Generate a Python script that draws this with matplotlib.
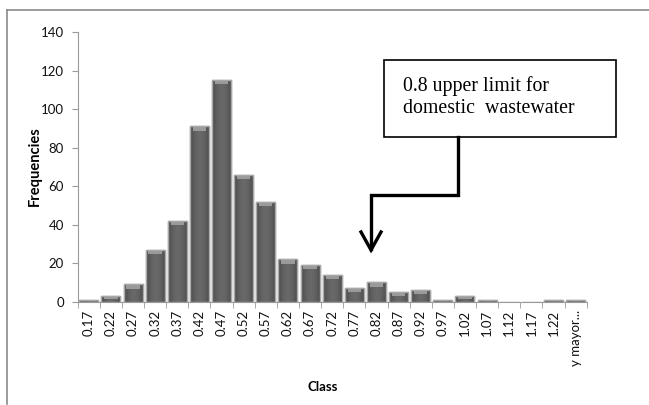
import numpy as np
import matplotlib
matplotlib.use('Agg')
from matplotlib import pyplot as plt
from matplotlib.lines import Line2D
from matplotlib.patches import Rectangle

# class marks and counts
classes = ['0.17', '0.22', '0.27', '0.32', '0.37', '0.42', '0.47', '0.52', '0.57', '0.62',
           '0.67', '0.72', '0.77', '0.82', '0.87', '0.92', '0.97', '1.02', '1.07', '1.12',
           '1.17', '1.22', 'y mayor...']
freqs = [1, 3, 9, 27, 42, 91, 115, 66, 52, 22,
         19, 14, 7, 10, 5, 6, 1, 3, 1, 0,
         0, 1, 1]
y_ticks = [0, 20, 40, 60, 80, 100, 120, 140]
note = '0.8 upper limit for\ndomestic  wastewater'

W, H = 649, 405
fig = plt.figure(figsize=(W / 100, H / 100), dpi=100)
fig.patch.set_facecolor('white')


def fx(px):
    return px / W


def fy(py):
    return 1 - py / H


ax = fig.add_axes([fx(77.7), fy(301.7), fx(586.7) - fx(77.7), fy(32) - fy(301.7)])

x = np.arange(len(classes))
bars = ax.bar(x, freqs, width=0.86, color='#595959', edgecolor='#a0a0a0', linewidth=1, zorder=2)

# horizontal shading on each bar, darker toward the sides
shade = 0.41 - 0.12 * np.abs(np.linspace(-1, 1, 64)) ** 1.8
shade = shade[np.newaxis, :]
for b in bars:
    h = b.get_height()
    if h <= 0:
        continue
    x0 = b.get_x()
    im = ax.imshow(shade, cmap='gray', vmin=0, vmax=1, aspect='auto',
                   extent=(x0, x0 + b.get_width(), 0, h), zorder=2.5, interpolation='bilinear')
    im.set_clip_path(b)
    # lighter bevel at the top of the bar
    if h >= 2:
        bev = min(2.2, h * 0.5)
        ax.bar(b.get_x() + b.get_width() / 2, bev, bottom=h - bev,
               width=b.get_width() * 0.7, color='#9a9a9a', linewidth=0, zorder=3)
    ax.add_patch(Rectangle((x0, 0), b.get_width(), h, fill=False,
                           edgecolor='#a8a8a8', linewidth=1, zorder=4))

ax.set_xlim(-0.5, len(classes) - 0.5)
ax.set_ylim(0, 140)
ax.set_yticks(y_ticks)
ax.set_yticklabels([str(v) for v in y_ticks], fontsize=9.5, family='Lato', color='#111111')
ax.set_xticks(x)
ax.set_xticklabels(classes, rotation=90, fontsize=9.5, family='Lato', color='#111111')
ax.set_xticks(np.arange(-0.5, len(classes)), minor=True)
ax.tick_params(axis='x', which='major', length=0, pad=6)
ax.tick_params(axis='x', which='minor', length=4, color='#9a9a9a')
ax.tick_params(axis='y', length=4, color='#9a9a9a', pad=6)

for side in ['top', 'right']:
    ax.spines[side].set_visible(False)
ax.spines['left'].set_color('#9a9a9a')
ax.spines['bottom'].set_color('#9a9a9a')

fig.text(fx(34.5), fy(166.5), 'Frequencies', fontsize=10.5, fontweight='bold', family='Lato',
         rotation=90, ha='center', va='center')
fig.text(fx(323), fy(387), 'Class', fontsize=9.5, fontweight='bold', family='Lato',
         ha='center', va='center')

# chart frame lines
fig.add_artist(Line2D([fx(7), fx(7)], [fy(10), fy(404)], color='#8a8a8a', lw=1.2))
fig.add_artist(Line2D([fx(7), 1], [fy(10), fy(10)], color='#8a8a8a', lw=1.2))

# note box with elbow arrow
fig.add_artist(Rectangle((fx(383.5), fy(136.5)), fx(616) - fx(383.5), fy(60) - fy(136.5),
                         transform=fig.transFigure, fill=True, facecolor='white',
                         edgecolor='black', linewidth=1.2))
fig.text(fx(402.5), fy(97), note, fontsize=14.3, family='Liberation Serif',
         ha='left', va='center', linespacing=1.2)
fig.add_artist(Line2D([fx(457.5), fx(457.5), fx(371), fx(371)],
                      [fy(136.5), fy(195), fy(195), fy(249)],
                      color='black', lw=2.4, solid_joinstyle='miter'))
fig.add_artist(Line2D([fx(361), fx(371), fx(381)], [fy(232), fy(250), fy(232)],
                      color='black', lw=2.4, solid_joinstyle='miter'))

fig.savefig('out.png', dpi=100)
